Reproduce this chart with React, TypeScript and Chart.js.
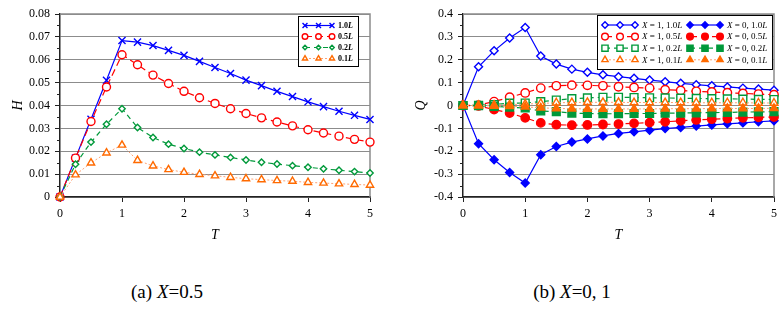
import React, { useEffect, useRef } from 'react';
import { Chart, registerables } from 'chart.js';
import { drawPoint } from 'chart.js/helpers';
Chart.register(...registerables);

// ---------- data ----------
const T = [0, 0.25, 0.5, 0.75, 1, 1.25, 1.5, 1.75, 2, 2.25, 2.5, 2.75, 3, 3.25, 3.5, 3.75, 4, 4.25, 4.5, 4.75, 5];

// (a) X = 0.5, H
const H_1_0L = [0, 0.0170, 0.0340, 0.0510, 0.0684, 0.0677, 0.0662, 0.0641, 0.0619, 0.0593, 0.0566, 0.0540, 0.0511, 0.0487, 0.0462, 0.0439, 0.0416, 0.0395, 0.0375, 0.0357, 0.0339];
const H_0_5L = [0, 0.0170, 0.0330, 0.0481, 0.0622, 0.0578, 0.0533, 0.0496, 0.0462, 0.0434, 0.0409, 0.0386, 0.0365, 0.0346, 0.0328, 0.0311, 0.0294, 0.0280, 0.0266, 0.0252, 0.0240];
const H_0_2L = [0, 0.0143, 0.0240, 0.0318, 0.0386, 0.0304, 0.0260, 0.0231, 0.0212, 0.0196, 0.0184, 0.0173, 0.0162, 0.0152, 0.0144, 0.0137, 0.0130, 0.0123, 0.0117, 0.0111, 0.0105];
const H_0_1L = [0, 0.0097, 0.0149, 0.0193, 0.0227, 0.0160, 0.0136, 0.0120, 0.0108, 0.0099, 0.0093, 0.0086, 0.0080, 0.0076, 0.0072, 0.0069, 0.0064, 0.0061, 0.0058, 0.0055, 0.0052];

// (b) X = 0, 1, Q
const Q_X1_1_0L = [0, 0.169, 0.239, 0.295, 0.341, 0.216, 0.181, 0.159, 0.145, 0.134, 0.126, 0.119, 0.111, 0.104, 0.097, 0.091, 0.086, 0.081, 0.076, 0.072, 0.067];
const Q_X0_1_0L = [0, -0.167, -0.237, -0.293, -0.339, -0.215, -0.179, -0.160, -0.146, -0.133, -0.122, -0.115, -0.108, -0.101, -0.096, -0.090, -0.085, -0.080, -0.076, -0.071, -0.067];
const Q_X1_0_5L = [0, 0.002, 0.017, 0.036, 0.055, 0.076, 0.086, 0.089, 0.088, 0.086, 0.082, 0.079, 0.076, 0.069, 0.066, 0.062, 0.059, 0.056, 0.053, 0.050, 0.047];
const Q_X0_0_5L = [0, -0.002, -0.018, -0.033, -0.054, -0.076, -0.084, -0.086, -0.085, -0.083, -0.081, -0.078, -0.075, -0.071, -0.067, -0.063, -0.060, -0.057, -0.054, -0.052, -0.050];
const Q_X1_0_2L = [0, 0.001, 0.004, 0.010, 0.011, 0.017, 0.024, 0.030, 0.033, 0.036, 0.036, 0.035, 0.034, 0.033, 0.032, 0.031, 0.030, 0.029, 0.028, 0.027, 0.026];
const Q_X0_0_2L = [0, -0.001, -0.004, -0.007, -0.011, -0.024, -0.027, -0.033, -0.035, -0.036, -0.036, -0.035, -0.035, -0.034, -0.033, -0.032, -0.031, -0.030, -0.029, -0.028, -0.027];
const Q_X1_0_1L = [0, 0.000, 0.002, 0.004, 0.006, 0.009, 0.012, 0.013, 0.014, 0.014, 0.014, 0.013, 0.013, 0.013, 0.013, 0.012, 0.012, 0.012, 0.012, 0.011, 0.011];
const Q_X0_0_1L = [0, 0.000, -0.002, -0.004, -0.006, -0.010, -0.013, -0.014, -0.015, -0.015, -0.015, -0.015, -0.015, -0.014, -0.014, -0.014, -0.013, -0.013, -0.013, -0.013, -0.012];

const LENGTHS = ['1.0', '0.5', '0.2', '0.1'];
const X_VALUES = ['1', '0'];
const CAPTION_A = ['(a) ', 'X', '=0.5'];
const CAPTION_B = ['(b) ', 'X', '=0, 1'];

const SERIF = '"Liberation Serif", "Times New Roman", serif';

type Part = { t: string; it?: boolean };

const pts = (arr: number[]) => T.map((t, i) => ({ x: t, y: arr[i] }));

function series(parts: Part[], data: number[], color: string, line: string, style: string, radius: number, dash: number[], filled: boolean, bw = 1.2) {
  return {
    label: parts.map((p) => p.t).join(''),
    legendParts: parts,
    data: pts(data),
    borderColor: line,
    borderWidth: bw,
    borderDash: dash,
    pointStyle: style,
    pointRadius: radius,
    pointHoverRadius: radius,
    pointBorderColor: color,
    pointBackgroundColor: filled ? color : '#ffffff',
    pointBorderWidth: 1.4,
    tension: 0,
    clip: false,
    fill: false,
  };
}

const framePlugin = {
  id: 'frame',
  beforeDatasetsDraw(chart: any) {
    const { ctx, chartArea: a } = chart;
    ctx.save();
    ctx.strokeStyle = '#8c8c8c';
    ctx.lineWidth = 1.5;
    ctx.beginPath();
    ctx.moveTo(a.left, a.top);
    ctx.lineTo(a.right, a.top);
    ctx.lineTo(a.right, a.bottom);
    ctx.stroke();
    const ys = chart.scales.y;
    ctx.strokeStyle = '#222';
    ctx.lineWidth = 1;
    for (let i = 0; i < ys.ticks.length - 1; i++) {
      const v = (ys.ticks[i].value + ys.ticks[i + 1].value) / 2;
      const py = Math.round(ys.getPixelForValue(v)) + 0.5;
      ctx.beginPath();
      ctx.moveTo(a.left - 3, py);
      ctx.lineTo(a.left, py);
      ctx.stroke();
    }
    ctx.restore();
  },
};

const legendPlugin = {
  id: 'boxLegend',
  afterDatasetsDraw(chart: any, _args: any, o: any) {
    const { ctx } = chart;
    ctx.save();
    ctx.fillStyle = '#ffffff';
    ctx.fillRect(o.x, o.y, o.w, o.h);
    ctx.strokeStyle = '#000';
    ctx.lineWidth = 1;
    ctx.strokeRect(Math.round(o.x) + 0.5, Math.round(o.y) + 0.5, o.w, o.h);
    chart.data.datasets.forEach((ds: any, i: number) => {
      const col = i % o.cols;
      const row = Math.floor(i / o.cols);
      const x0 = o.x + o.padX + col * o.colW;
      const cy = o.y + o.padY + row * o.rowH;
      ctx.strokeStyle = ds.borderColor;
      ctx.lineWidth = ds.borderWidth;
      ctx.setLineDash(ds.borderDash || []);
      ctx.beginPath();
      ctx.moveTo(x0, cy);
      ctx.lineTo(x0 + o.sampleW, cy);
      ctx.stroke();
      ctx.setLineDash([]);
      for (let k = 0; k < 3; k++) {
        ctx.strokeStyle = ds.pointBorderColor;
        ctx.fillStyle = ds.pointBackgroundColor;
        ctx.lineWidth = ds.pointBorderWidth;
        drawPoint(ctx, { pointStyle: ds.pointStyle, radius: ds.pointRadius * o.markScale, borderWidth: ds.pointBorderWidth, rotation: 0 } as any, x0 + (k * o.sampleW) / 2, cy);
      }
      ctx.fillStyle = '#000';
      ctx.textBaseline = 'middle';
      ctx.textAlign = 'left';
      let tx = x0 + o.sampleW + o.gap;
      for (const p of ds.legendParts as Part[]) {
        ctx.font = `${p.it ? 'italic ' : ''}${o.bold ? 'bold ' : ''}${o.fontSize}px ${SERIF}`;
        ctx.fillText(p.t, tx, cy + 0.5);
        tx += ctx.measureText(p.t).width;
      }
    });
    ctx.restore();
  },
};

function makeConfig(kind: 'H' | 'Q') {
  const BLUE = '#0000ff', RED = '#ff0000', GREEN = '#00993a', ORANGE = '#ff6a00', ORANGE_L = '#ffa070';
  let datasets: any[];
  if (kind === 'H') {
    const lp = (s: string): Part[] => [{ t: s }, { t: 'L', it: true }];
    datasets = [
      series(lp(LENGTHS[0]), H_1_0L, BLUE, BLUE, 'crossRot', 5, [], false, 1.2),
      series(lp(LENGTHS[1]), H_0_5L, RED, RED, 'circle', 4, [7, 4], false),
      series(lp(LENGTHS[2]), H_0_2L, GREEN, GREEN, 'rectRot', 3.2, [5, 4], false),
      series(lp(LENGTHS[3]), H_0_1L, ORANGE, ORANGE_L, 'triangle', 4.2, [2, 2], false, 1),
    ];
  } else {
    const qp = (x: string, s: string): Part[] => [{ t: 'X', it: true }, { t: ` = ${x}, ${s}` }, { t: 'L', it: true }];
    datasets = [
      series(qp(X_VALUES[0], LENGTHS[0]), Q_X1_1_0L, BLUE, BLUE, 'rectRot', 4, [], false),
      series(qp(X_VALUES[1], LENGTHS[0]), Q_X0_1_0L, BLUE, BLUE, 'rectRot', 4, [], true),
      series(qp(X_VALUES[0], LENGTHS[1]), Q_X1_0_5L, RED, RED, 'circle', 4.2, [7, 4], false),
      series(qp(X_VALUES[1], LENGTHS[1]), Q_X0_0_5L, RED, RED, 'circle', 4.2, [7, 4], true),
      series(qp(X_VALUES[0], LENGTHS[2]), Q_X1_0_2L, GREEN, GREEN, 'rect', 5.5, [5, 4], false),
      series(qp(X_VALUES[1], LENGTHS[2]), Q_X0_0_2L, GREEN, GREEN, 'rect', 5.5, [5, 4], true),
      series(qp(X_VALUES[0], LENGTHS[3]), Q_X1_0_1L, ORANGE, ORANGE_L, 'triangle', 4.5, [2, 2], false, 1),
      series(qp(X_VALUES[1], LENGTHS[3]), Q_X0_0_1L, ORANGE, ORANGE_L, 'triangle', 4.5, [2, 2], true, 1),
    ];
  }
  // later series drawn on top (as in the reference)
  datasets.forEach((d, i) => { (d as any).order = -i; });
  const isH = kind === 'H';
  const tickFont = { family: SERIF, size: 12 };
  return {
    type: 'line',
    data: { datasets },
    plugins: [framePlugin, legendPlugin],
    options: {
      animation: false,
      responsive: false,
      events: [],
      layout: { padding: isH ? { left: 0, right: 20, top: 14, bottom: 0 } : { left: 0, right: 9, top: 14, bottom: 0 } },
      plugins: {
        legend: { display: false },
        tooltip: { enabled: false },
        boxLegend: isH
          ? { x: 298, y: 16, w: 60, h: 50, padX: 7, padY: 9.5, rowH: 11, cols: 1, colW: 0, sampleW: 27, gap: 6, fontSize: 8, bold: true, markScale: 0.7 }
          : { x: 207, y: 15, w: 175, h: 54, padX: 8, padY: 10, rowH: 11.6, cols: 2, colW: 85, sampleW: 30, gap: 7, fontSize: 9, bold: false, markScale: 0.8 },
      },
      scales: {
        x: {
          type: 'linear',
          min: 0,
          max: 5,
          afterFit: (s: any) => { s.height = 53; },
          ticks: { stepSize: 1, font: tickFont, color: '#000', padding: 5, callback: (v: any) => String(v) },
          grid: { drawOnChartArea: false, drawTicks: true, tickLength: 5, tickColor: '#222', color: '#222' },
          border: { display: true, color: '#222', width: 1.5 },
          title: { display: true, text: 'T', font: { family: SERIF, size: 14, style: 'italic' }, color: '#000', padding: { top: 0, bottom: 6.6 } },
        },
        y: {
          type: 'linear',
          min: isH ? 0 : -0.4,
          max: isH ? 0.08 : 0.4,
          afterFit: (s: any) => { s.width = isH ? 60 : 73; },
          ticks: {
            stepSize: isH ? 0.01 : 0.1,
            font: tickFont,
            color: '#000',
            padding: 5,
            callback: (v: any) => (Math.abs(v) < 1e-9 ? '0' : Number(v).toFixed(isH ? 2 : 1)),
          },
          grid: { color: '#8c8c8c', lineWidth: 1, drawTicks: true, tickLength: 5, tickColor: '#222' },
          border: { display: true, color: '#222', width: 1.5 },
          title: { display: true, text: isH ? 'H' : 'Q', font: { family: SERIF, size: 14, style: 'italic' }, color: '#000', padding: { top: isH ? 9.6 : 23.3, bottom: 0 } },
        },
      },
    },
  };
}

function ChartCanvas({ kind, left, width }: { kind: 'H' | 'Q'; left: number; width: number }) {
  const ref = useRef<HTMLCanvasElement | null>(null);
  useEffect(() => {
    if (!ref.current) return;
    const chart = new Chart(ref.current, makeConfig(kind) as any);
    return () => chart.destroy();
  }, [kind]);
  return (
    <canvas
      ref={ref}
      width={width}
      height={250}
      style={{ position: 'absolute', left, top: 0, width, height: 250, display: 'block' }}
    />
  );
}

function Caption({ parts, center }: { parts: string[]; center: number }) {
  return (
    <div
      style={{
        position: 'absolute',
        left: center - 100,
        width: 200,
        top: 280,
        textAlign: 'center',
        fontFamily: SERIF,
        fontSize: 19,
        lineHeight: '24px',
        color: '#000',
        whiteSpace: 'nowrap',
      }}
    >
      {parts[0]}
      <i>{parts[1]}</i>
      {parts[2]}
    </div>
  );
}

export default function App() {
  return (
    <div style={{ position: 'absolute', left: 0, top: 0, width: 783, height: 313, background: '#fff', overflow: 'hidden' }}>
      <ChartCanvas kind="H" left={0} width={390} />
      <ChartCanvas kind="Q" left={390} width={393} />
      <Caption parts={CAPTION_A} center={167} />
      <Caption parts={CAPTION_B} center={572} />
    </div>
  );
}
